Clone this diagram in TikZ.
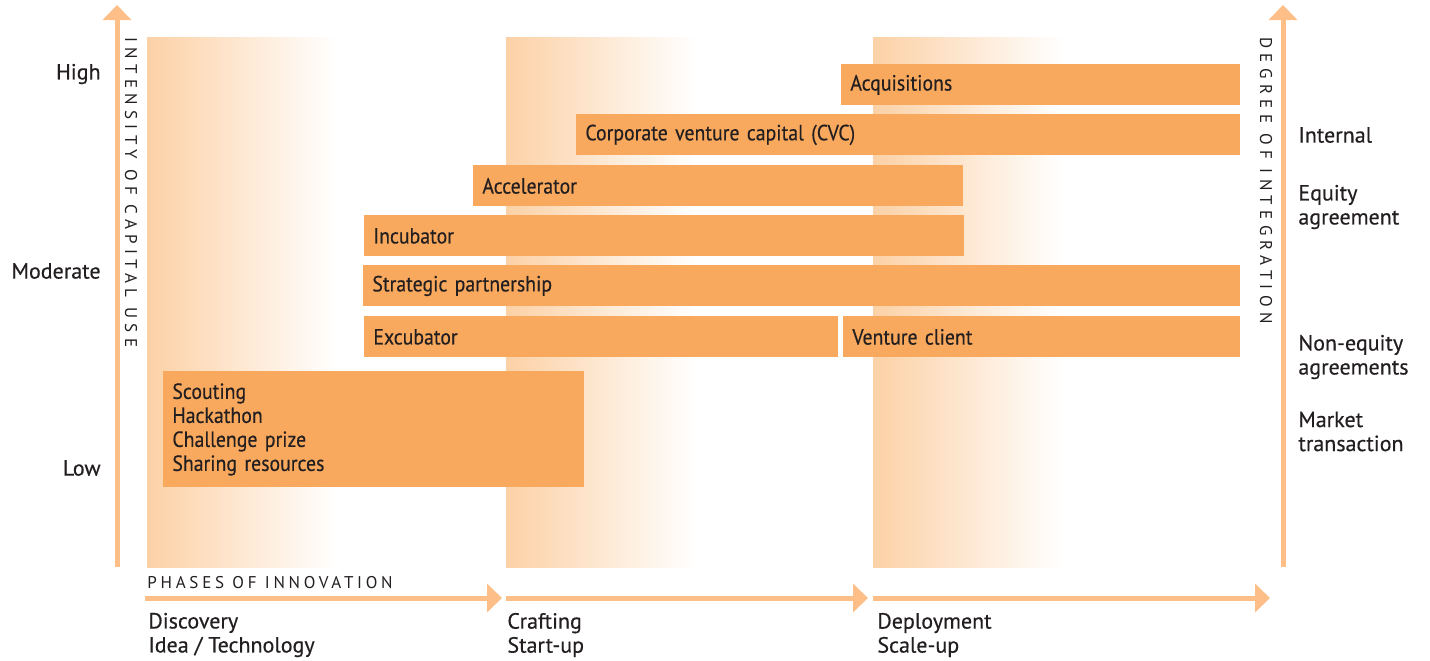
\documentclass[tikz,border=0pt]{standalone}
\usepackage{fontspec}
\setmainfont{PT Sans}[FakeStretch=0.9,FakeBold=0.3]
\newfontfamily\labelfont{PT Sans}[FakeBold=0.4]
\newfontfamily\capsfont{PT Sans}[LetterSpace=22]
\newfontfamily\capsfontwide{PT Sans}[LetterSpace=31.5]
\usepackage{tikz}
\usetikzlibrary{arrows.meta,positioning}
\definecolor{barorange}{HTML}{F8A95E}
\definecolor{axisorange}{HTML}{FDBF87}
\definecolor{phaseorange}{HTML}{FCD1A6}
\definecolor{ink}{HTML}{231F20}

\begin{document}
\begin{tikzpicture}[x=0.5pt,y=-0.5pt,
	every node/.style={text=ink,font=\fontsize{11}{12}\selectfont},
	bar/.style={anchor=north west,fill=barorange,minimum height=20.5pt,
		inner xsep=4.5pt,inner ysep=0pt,text width=#1,align=left},
	lbl/.style={inner sep=0pt,align=left,font=\fontsize{11}{12}\labelfont},
	axis/.style={draw=axisorange,line width=2.5pt,-{Triangle[width=14pt,length=7.5pt]}},
	spaced/.style={inner sep=0pt,font=\fontsize{8.5}{10}\capsfont},
	vspaced/.style={inner sep=0pt,rotate=-90,anchor=west,font=\fontsize{8.5}{10}\capsfontwide}]
	\useasboundingbox (0,0) rectangle (1430,660);

	% phase columns
	\foreach \x in {147,506,873}
		\shade[left color=phaseorange,right color=white] (\x,37) rectangle ++(190,530);

	% axes
	\coordinate (cap_lo) at (117,567);
	\coordinate (cap_hi) at (117,5);
	\coordinate (int_lo) at (1283,567);
	\coordinate (int_hi) at (1283,5);
	\draw[axis] (cap_lo) -- (cap_hi);
	\draw[axis] (int_lo) -- (int_hi);

	\coordinate (ph_0) at (145,598);
	\coordinate (ph_1) at (502,598);
	\coordinate (ph_2) at (506,598);
	\coordinate (ph_3) at (868,598);
	\coordinate (ph_4) at (873,598);
	\coordinate (ph_5) at (1270,598);
	\draw[axis] (ph_0) -- (ph_1);
	\draw[axis] (ph_2) -- (ph_3);
	\draw[axis] (ph_4) -- (ph_5);

	\node[vspaced] (cap_title) at (131,37) {INTENSITY OF CAPITAL USE};
	\node[vspaced] (int_title) at (1266,37) {DEGREE OF INTEGRATION};
	\node[spaced,anchor=west] (ph_title) at (147,583) {PHASES OF INNOVATION};

	\node[lbl,anchor=east] (high) at (101,74) {High};
	\node[lbl,anchor=east] (moderate) at (101,271) {Moderate};
	\node[lbl,anchor=east] (low) at (101,468) {Low};

	\node[lbl,anchor=west] (internal) at (1298,135) {Internal};
	\node[lbl,anchor=west] (equity) at (1298,207) {Equity\\agreement};
	\node[lbl,anchor=west] (nonequity) at (1298,357) {Non-equity\\agreements};
	\node[lbl,anchor=west] (market) at (1298,431.5) {Market\\transaction};

	\node[lbl,anchor=west] (discovery) at (148,635) {Discovery\\Idea / Technology};
	\node[lbl,anchor=west] (crafting) at (507,635) {Crafting\\Start-up};
	\node[lbl,anchor=west] (deployment) at (877,635) {Deployment\\Scale-up};

	% instruments
	\node[bar=190.5pt] (acq) at (841,64) {Acquisitions};
	\node[bar=323pt] (cvc) at (576,114) {Corporate venture capital (CVC)};
	\node[bar=236pt] (acc) at (473,165) {Accelerator};
	\node[bar=291pt] (inc) at (364,215) {Incubator};
	\node[bar=429.5pt] (strat) at (363,265) {Strategic partnership};
	\node[bar=228pt] (exc) at (364,316) {Excubator};
	\node[bar=189.5pt] (vclient) at (843,316) {Venture client};
	\node[bar=201.5pt,minimum height=58pt] (scout) at (163,371)
		{Scouting\\Hackathon\\Challenge prize\\Sharing resources};
\end{tikzpicture}
\end{document}
